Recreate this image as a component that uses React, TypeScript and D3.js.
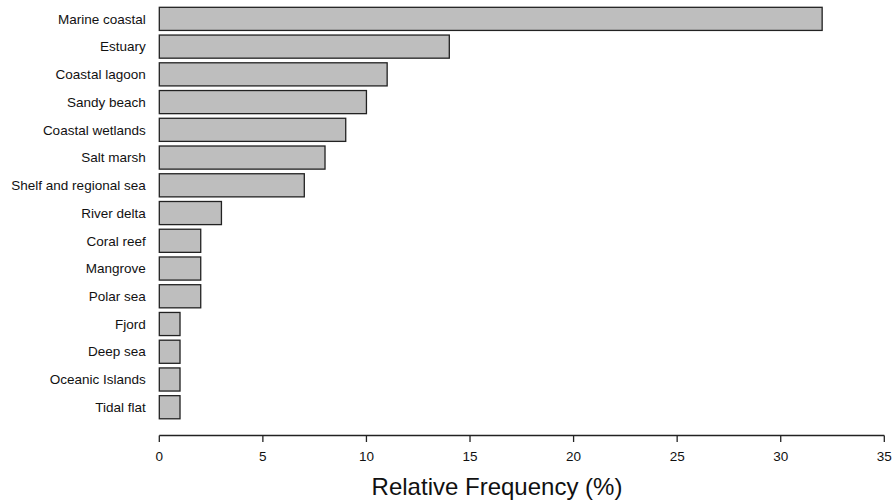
import React from "react";
import * as d3 from "d3";

const categories = [
  "Marine coastal",
  "Estuary",
  "Coastal lagoon",
  "Sandy beach",
  "Coastal wetlands",
  "Salt marsh",
  "Shelf and regional sea",
  "River delta",
  "Coral reef",
  "Mangrove",
  "Polar sea",
  "Fjord",
  "Deep sea",
  "Oceanic Islands",
  "Tidal flat",
];
const values = [32, 14, 11, 10, 9, 8, 7, 3, 2, 2, 2, 1, 1, 1, 1];
const xTicks = [0, 5, 10, 15, 20, 25, 30, 35];
const xTitle = "Relative Frequency (%)";

const W = 893;
const H = 500;
const FONT = "'Liberation Sans', Arial, Helvetica, sans-serif";

export default function App() {
  const x = d3.scaleLinear().domain([0, 35]).range([159.3, 884.3]);
  const y = d3
    .scaleBand<string>()
    .domain(categories)
    .range([5, 421.1])
    .paddingInner(1 / 6)
    .paddingOuter(1 / 12);
  const axisY = 435.5;
  return (
    <svg
      width={W}
      height={H}
      style={{ position: "absolute", left: 0, top: 0, background: "#fff" }}
    >
      {categories.map((c, i) => (
        <g key={c}>
          <rect
            x={x(0)}
            y={y(c)!}
            width={x(values[i]) - x(0)}
            height={y.bandwidth()}
            fill="#bebebe"
            stroke="#222"
            strokeWidth={1.3}
          />
          <text
            x={145.7}
            y={y(c)! + y.bandwidth() / 2}
            dy="0.35em"
            textAnchor="end"
            fontFamily={FONT}
            fontSize={13.5}
            fill="#111"
          >
            {c}
          </text>
        </g>
      ))}
      <line
        x1={x(0)}
        x2={x(35)}
        y1={axisY}
        y2={axisY}
        stroke="#222"
        strokeWidth={1.3}
      />
      {xTicks.map((t) => (
        <g key={t}>
          <line
            x1={x(t)}
            x2={x(t)}
            y1={axisY}
            y2={axisY + 6.5}
            stroke="#222"
            strokeWidth={1.3}
          />
          <text
            x={x(t)}
            y={axisY + 20.5}
            dy="0.35em"
            textAnchor="middle"
            fontFamily={FONT}
            fontSize={13.5}
            fill="#111"
          >
            {t}
          </text>
        </g>
      ))}
      <text
        x={497}
        y={495}
        textAnchor="middle"
        fontFamily={FONT}
        fontSize={24}
        fill="#111"
      >
        {xTitle}
      </text>
    </svg>
  );
}
